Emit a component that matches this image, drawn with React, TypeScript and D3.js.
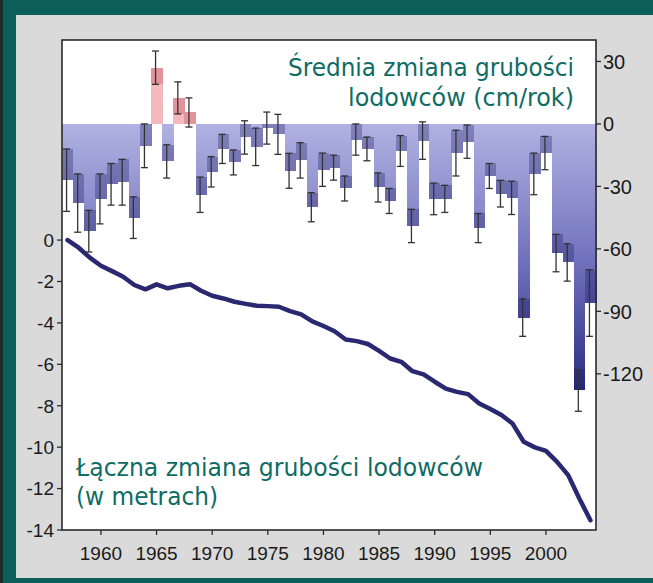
import * as d3 from "d3";

const years = [
  1957, 1958, 1959, 1960, 1961, 1962, 1963, 1964, 1965, 1966, 1967, 1968,
  1969, 1970, 1971, 1972, 1973, 1974, 1975, 1976, 1977, 1978, 1979, 1980,
  1981, 1982, 1983, 1984, 1985, 1986, 1987, 1988, 1989, 1990, 1991, 1992,
  1993, 1994, 1995, 1996, 1997, 1998, 1999, 2000, 2001, 2002, 2003, 2004,
];

// mean thickness change, cm per year
const meanChange = [
  -27, -38, -51.5, -36, -29, -28, -45, -10.5, 27, -18, 12.5, 5.5,
  -34, -23, -12, -18.5, -6.5, -11, -2, -5, -22.5, -17.5, -40, -22,
  -21, -31, -7.5, -12, -30.5, -37, -13, -49, -8, -36, -36, -14,
  -8.5, -50, -25, -33.5, -35.5, -93, -24, -14, -62, -66.5, -128, -86,
];

const meanError = [
  15, 14, 10, 12, 10, 11, 10, 10.5, 8, 8, 7.7, 7,
  8.5, 7.3, 7, 6, 8, 9, 7.7, 9.6, 8.4, 8.5, 7, 8,
  6, 6, 7.5, 5.7, 7, 6, 7.4, 8, 9, 7.6, 6.5, 11,
  8, 7, 6, 6.4, 8, 9, 10, 8, 9, 9, 10, 16,
];

// cumulative thickness change, metres
const cumulative = [
  0, -0.37, -0.85, -1.24, -1.5, -1.77, -2.17, -2.38, -2.14, -2.33, -2.21, -2.13,
  -2.45, -2.69, -2.82, -2.98, -3.08, -3.17, -3.19, -3.22, -3.43, -3.59, -3.93, -4.15,
  -4.4, -4.8, -4.88, -5.02, -5.35, -5.72, -5.88, -6.33, -6.49, -6.84, -7.17, -7.33,
  -7.44, -7.89, -8.16, -8.45, -8.86, -9.74, -10.01, -10.18, -10.71, -11.35, -12.48, -13.53,
];

const leftTicks = [0, -2, -4, -6, -8, -10, -12, -14];
const rightTicks = [30, 0, -30, -60, -90, -120];
const yearTicks = [1960, 1965, 1970, 1975, 1980, 1985, 1990, 1995, 2000];

export default function App() {
  const width = 653;
  const height = 583;
  const plot = { left: 62, right: 596, top: 40, bottom: 530 };

  const x = d3
    .scaleBand<number>()
    .domain(years)
    .range([plot.left, plot.right])
    .padding(0);
  const yRight = d3.scaleLinear().domain([-195, 40.3]).range([plot.bottom, plot.top]);
  const yLeft = d3.scaleLinear().domain([-14, 9.66]).range([plot.bottom, plot.top]);

  const line = d3
    .line<number>()
    .x((_, i) => (x(years[i]) ?? 0) + x.bandwidth() / 2)
    .y((d) => yLeft(d))
    .curve(d3.curveLinear);

  const teal = "#0f6c64";
  const tickFont = "'Liberation Sans', Arial, sans-serif";
  const titleFont = "'DejaVu Sans', Verdana, sans-serif";

  return (
    <svg
      width={width}
      height={height}
      style={{ position: "absolute", left: 0, top: 0 }}
    >
      <defs>
        <linearGradient
          id="barFill"
          gradientUnits="userSpaceOnUse"
          x1={0}
          x2={0}
          y1={yRight(0)}
          y2={yRight(-135)}
        >
          <stop offset="0%" stopColor="#b0b2e2" />
          <stop offset="50%" stopColor="#6f70bb" />
          <stop offset="100%" stopColor="#24247a" />
        </linearGradient>
      </defs>

      <rect width={width} height={height} fill="#0c5e58" />
      <rect x={0} y={0} width={3} height={height} fill="#1d2b2a" />
      <rect x={16} y={15} width={width - 16} height={563} fill="#dadada" />
      <rect
        x={plot.left}
        y={plot.top}
        width={plot.right - plot.left}
        height={plot.bottom - plot.top}
        fill="#ffffff"
      />

      {years.map((year, i) => {
        const v = meanChange[i];
        const e = meanError[i];
        const bx = x(year) ?? 0;
        const bw = x.bandwidth();
        const top = yRight(Math.max(0, v));
        const bottom = yRight(Math.min(0, v));
        // part of the error range that lies inside the bar
        const lo = Math.max(Math.min(0, v), v - e);
        const hi = Math.min(Math.max(0, v), v + e);
        const positive = v > 0;
        return (
          <g key={year} shapeRendering="crispEdges">
            <rect
              x={bx}
              y={top}
              width={bw + 0.5}
              height={bottom - top}
              fill={positive ? "#f3b9be" : "url(#barFill)"}
            />
            {hi > lo && (
              <rect
                x={bx}
                y={yRight(hi)}
                width={bw + 0.5}
                height={yRight(lo) - yRight(hi)}
                fill={positive ? "#b8323f" : "#1c1c66"}
                opacity={positive ? 0.28 : 0.32}
              />
            )}
          </g>
        );
      })}

      {years.map((year, i) => {
        const v = meanChange[i];
        const e = meanError[i];
        const cx = (x(year) ?? 0) + x.bandwidth() / 2 - 1;
        return (
          <g key={`err-${year}`} stroke="#333" strokeWidth={1.3}>
            <line x1={cx} x2={cx} y1={yRight(v + e)} y2={yRight(v - e)} />
            <line x1={cx - 3.5} x2={cx + 3.5} y1={yRight(v + e)} y2={yRight(v + e)} />
            <line x1={cx - 3.5} x2={cx + 3.5} y1={yRight(v - e)} y2={yRight(v - e)} />
          </g>
        );
      })}

      <path
        d={line(cumulative) ?? ""}
        fill="none"
        stroke="#2a2870"
        strokeWidth={4.5}
        strokeLinejoin="round"
        strokeLinecap="round"
      />

      <rect
        x={plot.left}
        y={plot.top}
        width={plot.right - plot.left}
        height={plot.bottom - plot.top}
        fill="none"
        stroke="#2b2b2b"
        strokeWidth={1.6}
      />

      {leftTicks.map((tick) => (
        <g key={`l${tick}`} transform={`translate(${plot.left}, ${yLeft(tick)})`}>
          <line x1={-5} x2={0} stroke="#2b2b2b" strokeWidth={1.3} />
          <text
            x={-8}
            dy="0.36em"
            textAnchor="end"
            fontFamily={tickFont}
            fontSize={19}
            fill="#1a1a1a"
          >
            {tick}
          </text>
        </g>
      ))}

      {rightTicks.map((tick) => (
        <g key={`r${tick}`} transform={`translate(${plot.right}, ${yRight(tick)})`}>
          <line x1={0} x2={5} stroke="#2b2b2b" strokeWidth={1.3} />
          <text
            x={7}
            dy="0.36em"
            textAnchor="start"
            fontFamily={tickFont}
            fontSize={20}
            fill="#1a1a1a"
          >
            {tick}
          </text>
        </g>
      ))}

      {yearTicks.map((tick) => {
        const tx = (x(tick) ?? 0) + x.bandwidth() / 2;
        return (
          <g key={`x${tick}`} transform={`translate(${tx}, ${plot.bottom})`}>
            <line y1={0} y2={5} stroke="#2b2b2b" strokeWidth={1.3} />
            <text
              y={30}
              textAnchor="middle"
              fontFamily={tickFont}
              fontSize={19}
              fill="#1a1a1a"
            >
              {tick}
            </text>
          </g>
        );
      })}

      <g fontFamily={titleFont} fontSize={25} fill={teal}>
        <text x={288} y={76} textLength={286} lengthAdjust="spacingAndGlyphs">
          Średnia zmiana grubości
        </text>
        <text x={348} y={106} textLength={226} lengthAdjust="spacingAndGlyphs">
          lodowców (cm/rok)
        </text>
        <text x={76} y={476} textLength={407} lengthAdjust="spacingAndGlyphs">
          Łączna zmiana grubości lodowców
        </text>
        <text x={76} y={505} textLength={142} lengthAdjust="spacingAndGlyphs">
          (w metrach)
        </text>
      </g>
    </svg>
  );
}
